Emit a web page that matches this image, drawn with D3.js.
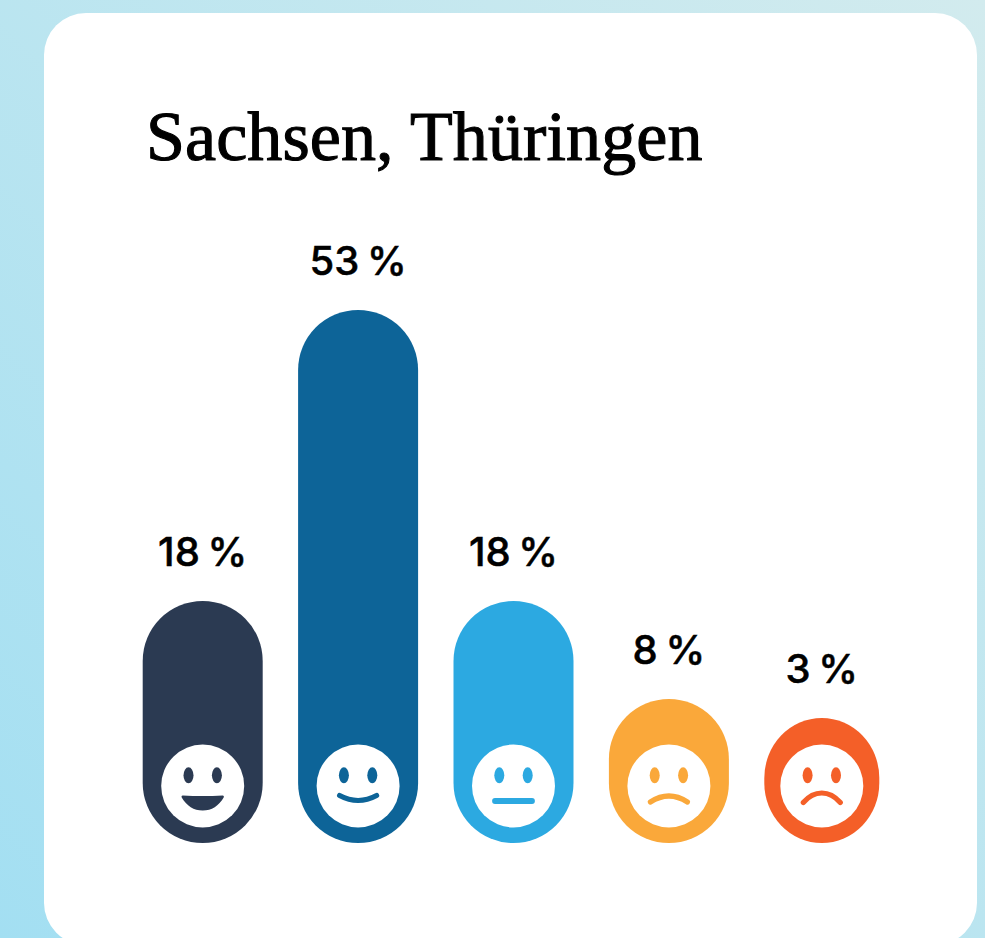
<!DOCTYPE html>
<html><head><meta charset="utf-8">
<script src="https://cdn.jsdelivr.net/npm/d3@7"></script>
<style>html,body{margin:0;padding:0;background:#fff;overflow:hidden}svg{display:block}</style>
</head><body><svg id="c" width="985" height="938"></svg>
<script>
const title = "Sachsen, Thüringen";
const categories = ["sehr gut","gut","mittel","schlecht","sehr schlecht"];
const values = [18,53,18,8,3];
const labels = ["18 %","53 %","18 %","8 %","3 %"];
const colors = ["#2b3a52","#0d6498","#2ca9e1","#faa83a","#f45f28"];
const moods = ["laugh","smile","neutral","sad","frown"];

const svg = d3.select("#c");
const defs = svg.append("defs");
const g = defs.append("linearGradient").attr("id","bg").attr("x1","0").attr("y1","1").attr("x2","1").attr("y2","0");
g.append("stop").attr("offset","0").attr("stop-color","#a3dff2");
g.append("stop").attr("offset","1").attr("stop-color","#d2ebee");
svg.append("rect").attr("width",985).attr("height",938).attr("fill","url(#bg)");
svg.append("rect").attr("x",44).attr("y",13).attr("width",933).attr("height",932).attr("rx",42).attr("fill","#fff");

svg.append("text").attr("x",146).attr("y",160).attr("font-family","'Liberation Serif',serif")
  .attr("font-size",70).attr("fill","#000").attr("stroke","#000").attr("stroke-width",1.1)
  .style("letter-spacing","0.1px").text(title);

const x = d3.scaleBand().domain(categories).range([142.7,919.7]).paddingInner(0).paddingOuter(0);
const y = d3.scaleLinear().domain([0,3,8,18,53]).range([843,718,699,601,310]);
const barW = d3.scaleThreshold().domain([5]).range([115,120]);
const cx = d => x(d.c)+barW(d.v)/2;
const data = categories.map((c,i)=>({c,v:values[i],l:labels[i],col:colors[i],m:moods[i]}));

const bars = svg.append("g").selectAll("g").data(data).join("g");
bars.append("rect")
  .attr("x",d=>x(d.c)).attr("width",d=>barW(d.v))
  .attr("y",d=>y(d.v)).attr("height",d=>y(0)-y(d.v))
  .attr("rx",d=>barW(d.v)/2).attr("ry",60).attr("fill",d=>d.col);
bars.append("text").attr("x",d=>cx(d)).attr("y",d=>y(d.v)-35.5).attr("text-anchor","middle")
  .attr("font-family","Inter,sans-serif").attr("font-weight",500).attr("font-size",40).attr("fill","#000")
  .attr("stroke","#000").attr("stroke-width",0.5)
  .style("word-spacing","-3px").text(d=>d.l);

const mouths = {
  laugh:"M-20,9.5 Q0,10.5 20,9.5 Q21.8,9.5 21,11.5 C16,20 9,24.5 0,24.5 C-9,24.5 -16,20 -21,11.5 Q-21.8,9.5 -20,9.5Z",
  smile:"M-18.5,9.5 Q0,19.5 18.5,9.5",
  neutral:"M-18.5,15 L18.5,15",
  sad:"M-18.5,16 Q0,4 18.5,16",
  frown:"M-18.5,16.5 C-12,9 -6,7 0,7 C6,7 12,9 18.5,16.5"
};
const face = bars.append("g").attr("transform",d=>`translate(${cx(d)},786)`);
face.append("circle").attr("r",41.5).attr("fill","#fff");
[-14.2,14.2].forEach(dx=>face.append("ellipse").attr("cx",dx).attr("cy",-10.7).attr("rx",5).attr("ry",8).attr("fill",d=>d.col));
face.append("path").attr("d",d=>mouths[d.m])
  .attr("fill",d=>d.m==="laugh"?d.col:"none")
  .attr("stroke",d=>d.m==="laugh"?"none":d.col)
  .attr("stroke-width",d=>d.m==="neutral"?5.8:5.2).attr("stroke-linecap","round");
</script></body></html>
